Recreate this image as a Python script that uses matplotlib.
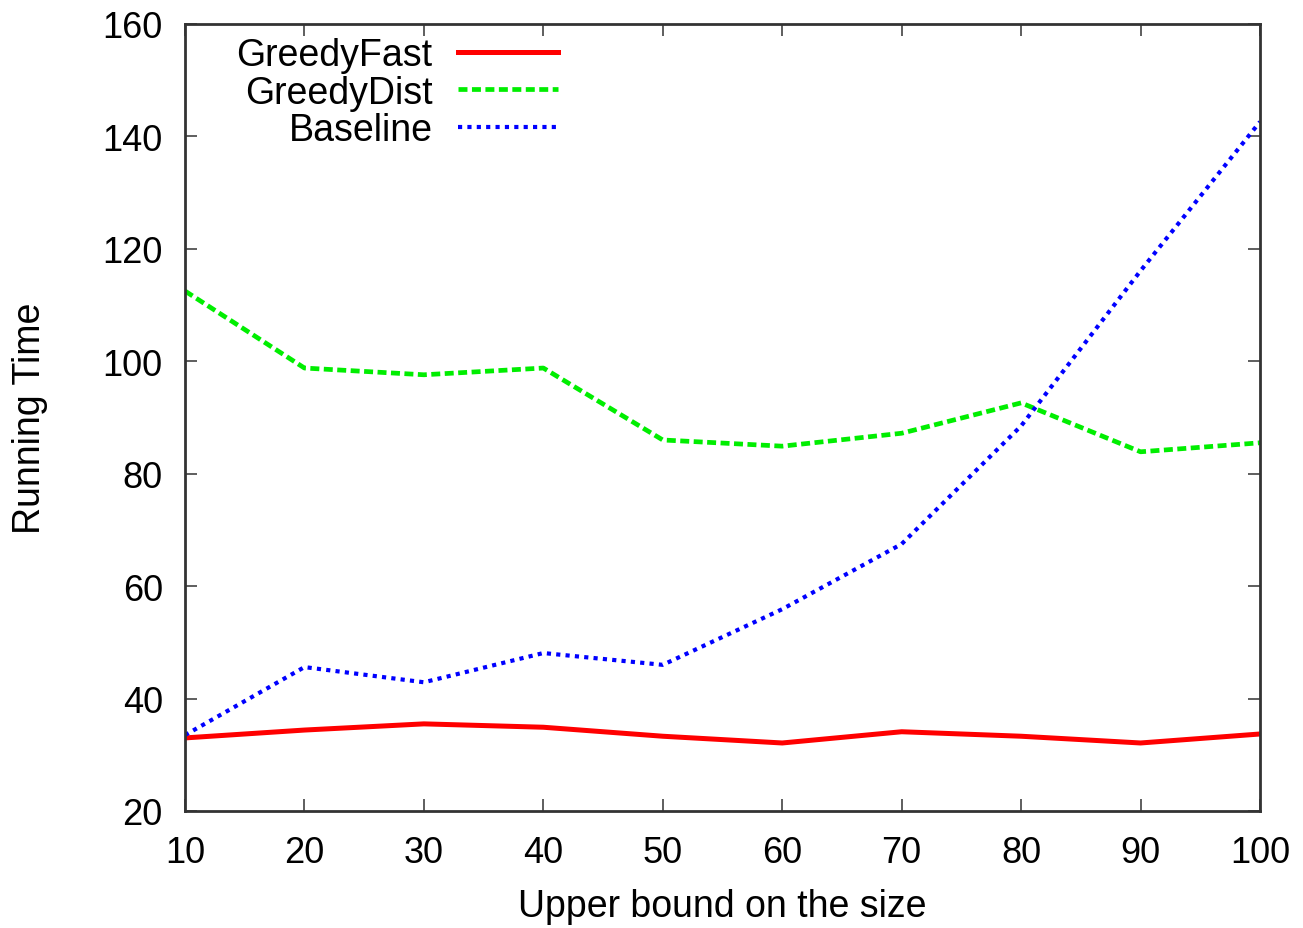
import matplotlib
matplotlib.use("Agg")
import matplotlib.pyplot as plt

plt.rcParams['font.family'] = ['Liberation Sans', 'DejaVu Sans']

x = [10, 20, 30, 40, 50, 60, 70, 80, 90, 100]
greedy_fast = [33.0, 34.4, 35.5, 34.9, 33.3, 32.1, 34.1, 33.3, 32.1, 33.7]
greedy_dist = [112.5, 98.8, 97.6, 98.8, 86.0, 84.9, 87.2, 92.6, 83.9, 85.5]
baseline = [33.5, 45.6, 42.9, 48.1, 46.0, 55.9, 67.5, 88.5, 116.1, 142.6]

xticks = [10, 20, 30, 40, 50, 60, 70, 80, 90, 100]
yticks = [20, 40, 60, 80, 100, 120, 140, 160]

FS = 26
LFS = 27

fig = plt.figure(figsize=(13.03, 9.29), dpi=100)
ax = fig.add_axes([185/1303, 1 - 812/929, (1260-185)/1303, (812-25)/929])

ax.plot(x, greedy_fast, color='#ff0000', lw=3.6, ls='-', label='GreedyFast')
ax.plot(x, greedy_dist, color='#00ee00', lw=3.4, ls=(0, (1.9, 0.95)),
        label='GreedyDist', dash_capstyle='butt')
ax.plot(x, baseline, color='#0000ff', lw=3.0, ls=(0, (1, 1.25)),
        label='Baseline', dash_capstyle='butt')

ax.set_xlim(10, 100)
ax.set_ylim(20, 160)
ax.set_xticks(xticks)
ax.set_yticks(yticks)
ax.tick_params(direction='in', length=8.6, width=1.1, top=True, right=True,
               labelsize=FS, color='#333333')
ax.tick_params(axis='x', pad=17)
ax.tick_params(axis='y', pad=16)
for s in ax.spines.values():
    s.set_linewidth(2)
    s.set_color('#333333')

ax.set_xlabel('Upper bound on the size', fontsize=LFS)
ax.set_ylabel('Running Time', fontsize=LFS)
ax.xaxis.set_label_coords(0.5, -0.098)
ax.yaxis.set_label_coords(-0.127, 0.5)

leg = ax.legend(loc='upper left', bbox_to_anchor=(0.034, 1.002), frameon=False,
                markerfirst=False, fontsize=LFS, handlelength=2.67,
                labelspacing=0.03, handletextpad=0.67, borderaxespad=0.0)
for t in leg.get_texts():
    t.set_ha('right')
    t.set_position((0, 0))

fig.savefig('out.png', dpi=100)
